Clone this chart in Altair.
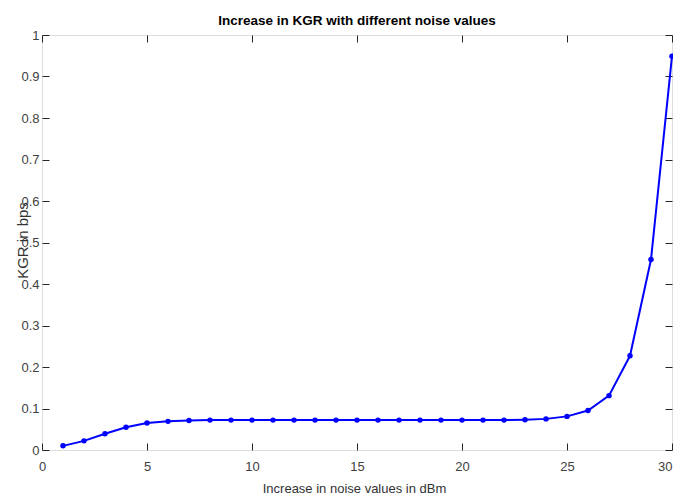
import altair as alt
import pandas as pd

noise_dbm = list(range(1, 31))
kgr_bps = [0.010, 0.022, 0.039, 0.055, 0.065, 0.069, 0.071, 0.072, 0.072, 0.072,
           0.072, 0.072, 0.072, 0.072, 0.072, 0.072, 0.072, 0.072, 0.072, 0.072,
           0.072, 0.072, 0.073, 0.075, 0.081, 0.095, 0.131, 0.227, 0.459, 0.949]
x_ticks = [0, 5, 10, 15, 20, 25, 30]
y_ticks = [0, 0.1, 0.2, 0.3, 0.4, 0.5, 0.6, 0.7, 0.8, 0.9, 1]

df = pd.DataFrame({"x": noise_dbm, "y": kgr_bps})

W, H = 630, 415
FONT = "Liberation Sans"
xscale = alt.Scale(domain=[0, 30], nice=False, zero=False)
yscale = alt.Scale(domain=[0, 1], nice=False, zero=False)

base = alt.Chart(df)

main = base.mark_line(
    color="#0000ff", strokeWidth=2,
    point=alt.OverlayMarkDef(filled=True, size=30, color="#0000ff"),
).encode(
    x=alt.X("x:Q", scale=xscale,
            axis=alt.Axis(values=x_ticks, tickSize=0, domain=False, grid=False,
                          labelPadding=10, labelFontSize=13, labelFont=FONT,
                          labelColor="#404040", labelFlush=False, labelOverlap=False,
                          labelAlign=alt.ExprRef(expr="datum.value == 30 ? 'right' : 'center'"),
                          title="Increase in noise values in dBm",
                          titleFont=FONT, titleFontSize=13, titleFontWeight="normal",
                          titleColor="#333333", titleX=W / 2 - 3, titleY=38,
                          titleBaseline="middle", titleAlign="center")),
    y=alt.Y("y:Q", scale=yscale,
            axis=alt.Axis(values=y_ticks, tickSize=0, domain=False, grid=False,
                          labelPadding=3, labelFontSize=13, labelFont=FONT,
                          labelColor="#404040", labelFlush=False, labelOverlap=False,
                          labelExpr="datum.value == 0 ? '0' : datum.value == 1 ? '1' : format(datum.value, '.1f')",
                          title="KGR in bps", titleFont=FONT, titleFontSize=15,
                          titleFontWeight="normal", titleColor="#333333",
                          titleAngle=-90, titleX=-20, titleY=205,
                          titleBaseline="middle", titleAlign="center")),
)

ticks_in_a = base.mark_point(opacity=0).encode(
    x=alt.X("x:Q", scale=xscale,
            axis=alt.Axis(orient="top", offset=-H, values=x_ticks, labels=False,
                          domain=False, grid=False, tickSize=7, tickColor="#262626",
                          title=None)),
    y=alt.Y("y:Q", scale=yscale,
            axis=alt.Axis(orient="right", offset=-W, values=y_ticks, labels=False,
                          domain=False, grid=False, tickSize=7, tickColor="#262626",
                          title=None)),
)

ticks_in_b = base.mark_point(opacity=0).encode(
    x=alt.X("x:Q", scale=xscale,
            axis=alt.Axis(orient="bottom", offset=-H, values=x_ticks, labels=False,
                          domain=False, grid=False, tickSize=7, tickColor="#262626",
                          title=None)),
    y=alt.Y("y:Q", scale=yscale,
            axis=alt.Axis(orient="left", offset=-W, values=y_ticks, labels=False,
                          domain=False, grid=False, tickSize=7, tickColor="#262626",
                          title=None)),
)

chart = alt.layer(main, ticks_in_a, ticks_in_b).resolve_scale(
    x="independent", y="independent"
).properties(
    width=W, height=H,
    title=alt.TitleParams("Increase in KGR with different noise values",
                          font=FONT, fontSize=13.5, fontWeight="bold",
                          color="#000000", anchor="middle", offset=2),
    autosize=alt.AutoSizeParams(type="none"),
    padding={"left": 34, "top": 27, "right": 1, "bottom": 47},
).configure_view(
    stroke="#262626", strokeWidth=1
).configure(background="white")

chart.save("out.html", embed_options={"renderer": "svg", "actions": False})
